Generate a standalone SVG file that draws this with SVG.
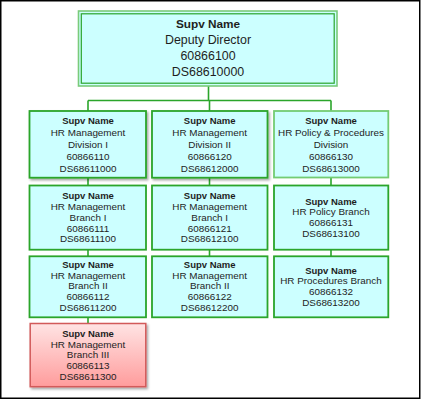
<svg xmlns="http://www.w3.org/2000/svg" width="421" height="400" viewBox="0 0 421 400">
<defs>
<filter id="sh" x="-10%" y="-10%" width="130%" height="130%">
<feDropShadow dx="1.5" dy="1.8" stdDeviation="1.1" flood-color="#000" flood-opacity="0.35"/>
</filter>
<linearGradient id="red" x1="0" y1="0" x2="0" y2="1">
<stop offset="0" stop-color="#ffe4e4"/>
<stop offset="1" stop-color="#ff9c9c"/>
</linearGradient>
<style>
.box{fill:#ccffff;stroke:#2ba52b;stroke-width:1.8}
.lite{stroke:#73cc73}
.red{fill:url(#red);stroke:#d25a5a;stroke-width:1.5}
.conn{fill:none;stroke:#2ba52b;stroke-width:1.6}
text{font-family:"Liberation Sans",Arial,sans-serif;fill:#1e1e1e;text-anchor:middle;font-size:9.9px}
.b{font-weight:bold;font-size:9.5px}
.top text{font-size:12.4px}
.top .b{font-size:11.8px}
</style>
</defs>
<rect x="0.75" y="0.75" width="419" height="397.5" fill="#fff" stroke="#000" stroke-width="1.5"/>
<g id="connectors">
<path class="conn" d="M208.5 86V100.5M88 100.5H331M88 100.5V111M209.5 100.5V111M331 100.5V111"/>
<path class="conn" d="M88 178V185.5M209.5 178V185.5M331 178V185.5"/>
<path class="conn" d="M88 250V256.3M209.5 250V256.3M331 250V256.3"/>
<path class="conn" d="M88 317.5V323.5"/>
</g>
<g id="n0" class="top">
<rect x="78.5" y="11" width="258.5" height="75" fill="#ccffff" stroke="#7acb7a" stroke-width="1.6"/>
<rect x="81.3" y="13.8" width="252.9" height="69.4" fill="#ccffff" stroke="#2ba52b" stroke-width="1.2"/>
<text class="b" x="208" y="28">Supv Name</text>
<text x="208" y="44.3">Deputy Director</text>
<text x="208" y="60.3">60866100</text>
<text x="208" y="76.3">DS68610000</text>
</g>
<g id="n1">
<rect class="box" x="29.5" y="111" width="116.5" height="66.7" filter="url(#sh)"/>
<text class="b" x="88" y="123.7">Supv Name</text>
<text x="88" y="135.8">HR Management</text>
<text x="88" y="147.7">Division I</text>
<text x="88" y="159.6">60866110</text>
<text x="88" y="171.8">DS68611000</text>
</g>
<g id="n2">
<rect class="box" x="152" y="111" width="115.5" height="66.7" filter="url(#sh)"/>
<text class="b" x="209.7" y="123.7">Supv Name</text>
<text x="209.7" y="135.8">HR Management</text>
<text x="209.7" y="147.7">Division II</text>
<text x="209.7" y="159.6">60866120</text>
<text x="209.7" y="171.8">DS68612000</text>
</g>
<g id="n3">
<rect class="box lite" x="274" y="111" width="114.3" height="66.5"/>
<text class="b" x="331" y="123.7">Supv Name</text>
<text x="331" y="135.8">HR Policy &amp; Procedures</text>
<text x="331" y="147.7">Division</text>
<text x="331" y="159.6">60866130</text>
<text x="331" y="171.8">DS68613000</text>
</g>
<g id="n4">
<rect class="box" x="29.5" y="185.5" width="116.5" height="64.2"/>
<text class="b" x="88" y="199.2">Supv Name</text>
<text x="88" y="210">HR Management</text>
<text x="88" y="220.7">Branch I</text>
<text x="88" y="231.5">60866111</text>
<text x="88" y="242.2">DS68611100</text>
</g>
<g id="n5">
<rect class="box" x="152" y="185.5" width="115.5" height="64.2"/>
<text class="b" x="209.7" y="199.2">Supv Name</text>
<text x="209.7" y="210">HR Management</text>
<text x="209.7" y="220.7">Branch I</text>
<text x="209.7" y="231.5">60866121</text>
<text x="209.7" y="242.2">DS68612100</text>
</g>
<g id="n6">
<rect class="box" x="274" y="185.5" width="114.3" height="64.2"/>
<text class="b" x="331" y="204.5">Supv Name</text>
<text x="331" y="215.2">HR Policy Branch</text>
<text x="331" y="226">60866131</text>
<text x="331" y="236.8">DS68613100</text>
</g>
<g id="n7">
<rect class="box" x="29.5" y="256.3" width="116.5" height="61"/>
<text class="b" x="88" y="267.8">Supv Name</text>
<text x="88" y="278.6">HR Management</text>
<text x="88" y="289.4">Branch II</text>
<text x="88" y="300.2">60866112</text>
<text x="88" y="311">DS68611200</text>
</g>
<g id="n8">
<rect class="box" x="152" y="256.3" width="115.5" height="61"/>
<text class="b" x="209.7" y="267.8">Supv Name</text>
<text x="209.7" y="278.6">HR Management</text>
<text x="209.7" y="289.4">Branch II</text>
<text x="209.7" y="300.2">60866122</text>
<text x="209.7" y="311">DS68612200</text>
</g>
<g id="n9">
<rect class="box" x="274" y="256.3" width="114.3" height="61"/>
<text class="b" x="331" y="273.5">Supv Name</text>
<text x="331" y="284.3">HR Procedures Branch</text>
<text x="331" y="295.1">60866132</text>
<text x="331" y="305.9">DS68613200</text>
</g>
<g id="n10">
<rect class="red" x="30.2" y="323.5" width="115.6" height="63.2" filter="url(#sh)"/>
<text class="b" x="88" y="336.8">Supv Name</text>
<text x="88" y="347.6">HR Management</text>
<text x="88" y="358.4">Branch III</text>
<text x="88" y="369.2">60866113</text>
<text x="88" y="380">DS68611300</text>
</g>
</svg>
